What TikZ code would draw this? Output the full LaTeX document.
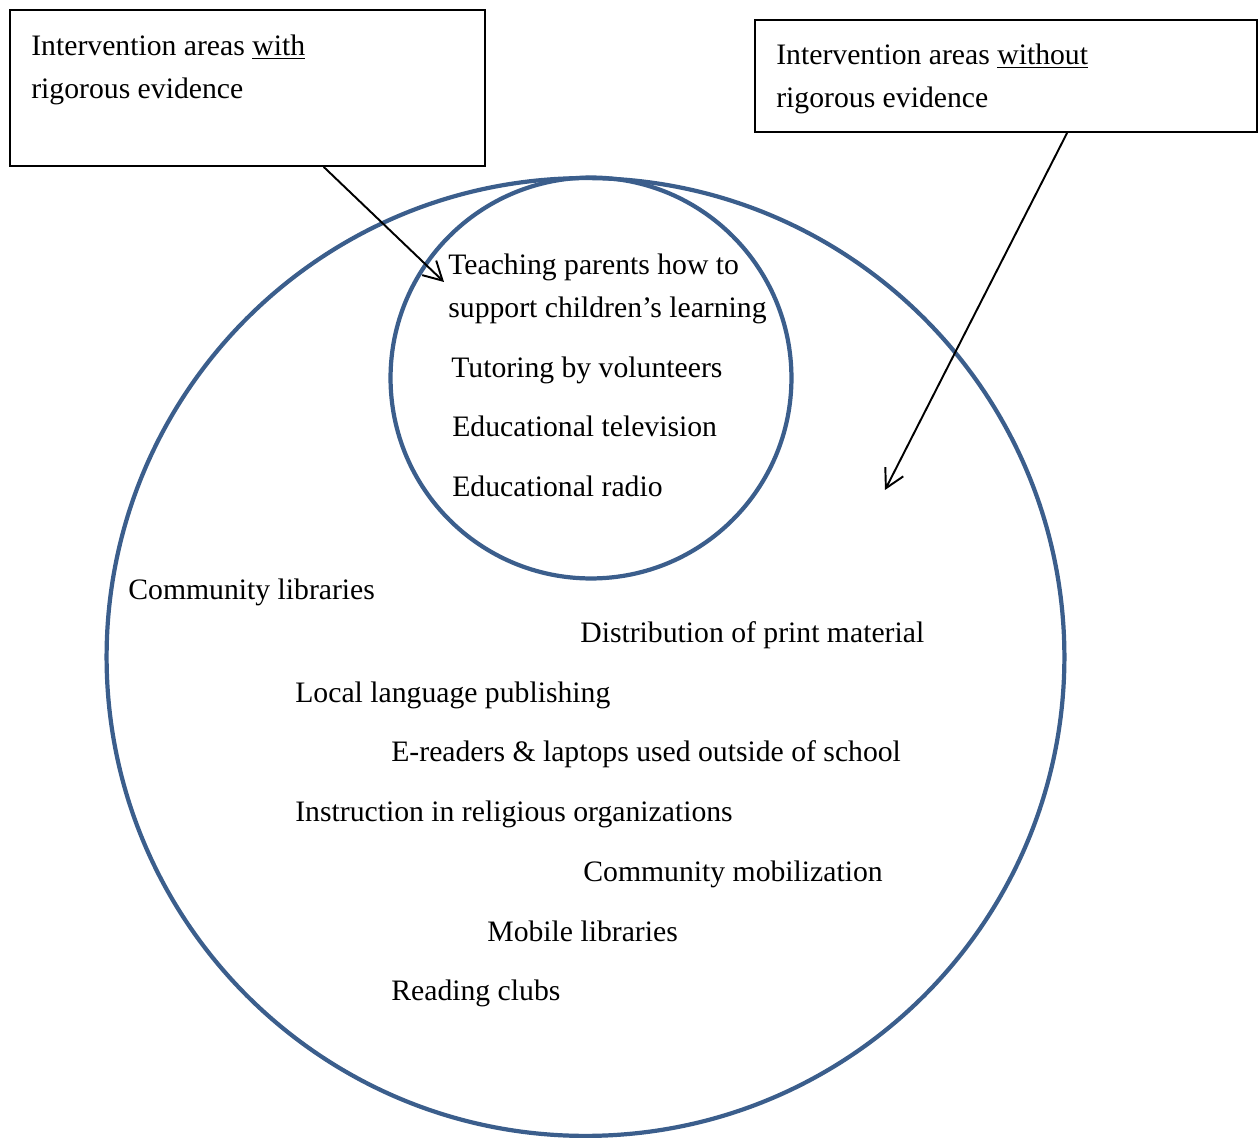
\documentclass[tikz,border=0pt]{standalone}
\usepackage{fontspec}
\setmainfont{Liberation Serif}
\usetikzlibrary{arrows.meta}
\definecolor{ringblue}{RGB}{59,94,140}
\tikzset{
  txt/.style={anchor=base west, inner sep=0pt, align=left,
    font=\fontsize{16.9}{24.5}\selectfont},
  evbox/.style={draw, line width=1.1pt, inner sep=0pt},
  ring/.style={draw=ringblue, circle, line width=2.4pt, inner sep=0pt},
  pointer/.style={line width=1.1pt, -{Straight Barb[length=10.5pt,width=11.5pt,line width=1.1pt]}}
}
\begin{document}
\begin{tikzpicture}[x=0.02cm,y=-0.02cm]
  \useasboundingbox (0,0) rectangle (1259,1138);
  % the two circles
  \node[ring, minimum size=19.16cm] (outer) at (585.5,657) {};
  \node[ring, minimum size=8.02cm] (inner) at (591,378) {};
  % boxes on top
  \node[evbox, minimum width=9.5cm, minimum height=3.12cm] (withbox) at (247.5,88) {};
  \node[evbox, minimum width=10.04cm, minimum height=2.24cm] (withoutbox) at (1006,76) {};
  % base of a two-line text is its last line
  \node[txt] (withtxt) at (31,99) {Intervention areas \underline{with}\\rigorous evidence};
  \node[txt] (withouttxt) at (776,108) {Intervention areas \underline{without}\\rigorous evidence};
  % with rigorous evidence
  \node[txt] (parents) at (448,318) {Teaching parents how to\\support children’s learning};
  \node[txt] (tutoring) at (451,378) {Tutoring by volunteers};
  \node[txt] (tv) at (452,437) {Educational television};
  \node[txt] (radio) at (452,497) {Educational radio};
  % without
  \node[txt] (commlib) at (128,600) {Community libraries};
  \node[txt] (print) at (580,643) {Distribution of print material};
  \node[txt] (locallang) at (295,703) {Local language publishing};
  \node[txt] (ereaders) at (391,762) {E-readers \& laptops used outside of school};
  \node[txt] (religious) at (295,822) {Instruction in religious organizations};
  \node[txt] (mobilize) at (583,881) {Community mobilization};
  \node[txt] (mobilelib) at (487,941) {Mobile libraries};
  \node[txt] (clubs) at (391,1000) {Reading clubs};
  % arrows
  \coordinate (withtip) at (444,282);
  \coordinate (withouttip) at (885,490);
  \draw[pointer] (withbox.-46.3) -- (withtip);
  \draw[pointer] (withoutbox.-43.5) -- (withouttip);
\end{tikzpicture}
\end{document}
